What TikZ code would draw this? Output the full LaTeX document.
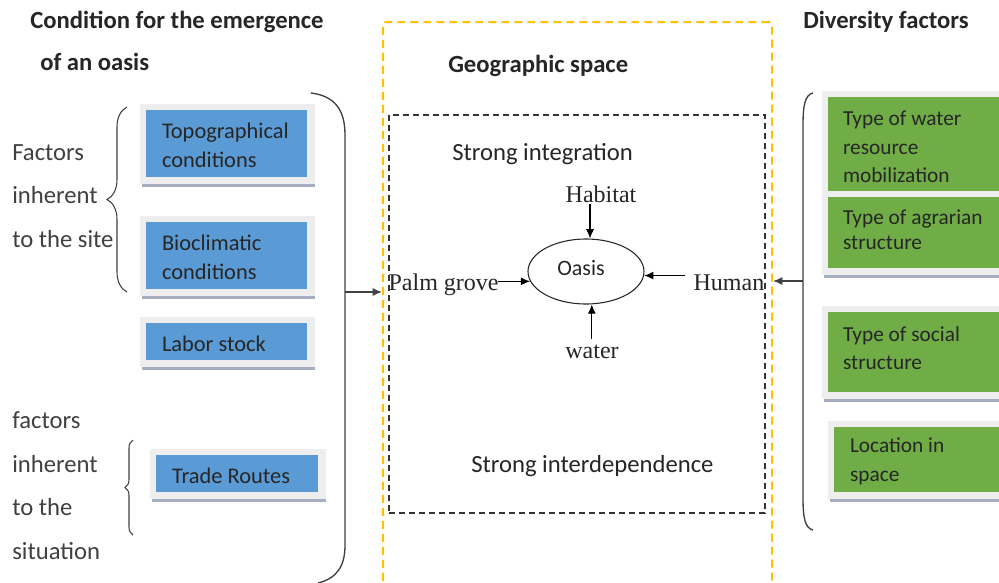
\documentclass[tikz,border=0pt]{standalone}
\usepackage{fontspec}
\setmainfont{Carlito}
\newfontfamily\tnr{Liberation Serif}
\usetikzlibrary{arrows.meta,fit,decorations.pathreplacing,shapes.geometric}
\definecolor{bluef}{HTML}{5B9BD5}
\definecolor{greenf}{HTML}{70AD47}
\definecolor{yel}{HTML}{FFC000}
\definecolor{framec}{HTML}{EEEEEE}
\definecolor{shadc}{HTML}{A5AFBF}
\definecolor{txt}{HTML}{262626}
\definecolor{lbl}{HTML}{404040}
\begin{document}
\begin{tikzpicture}[x=0.75pt,y=-0.75pt,
  title/.style={font=\fontsize{18.5}{22}\selectfont\bfseries, text=txt, inner sep=0, anchor=base west},
  lab/.style={font=\fontsize{18.5}{22}\selectfont, text=lbl, inner sep=0, anchor=base west},
  btext/.style={font=\fontsize{16.8}{21.5}\selectfont, text=txt, align=left, anchor=west, inner sep=0},
  gtext/.style={font=\fontsize{16}{21.5}\selectfont, text=txt, align=left, anchor=west, inner sep=0},
  tlab/.style={font=\tnr\fontsize{18}{22}\selectfont, text=txt, inner sep=1pt},
  arr/.style={-{Latex[length=7pt,width=6pt]}, line width=0.9pt, draw=black},
  conn/.style={draw=lbl, line width=1pt},
  bluebox/.style={inner sep=0, fill=bluef},
  greenbox/.style={inner sep=0, fill=greenf},
]
\useasboundingbox (0,0) rectangle (999,582);
\clip (0,0) rectangle (999,582);
\fill[white] (0,0) rectangle (999,582);

% titles
\node[title] (t1) at (30,28) {Condition for the emergence};
\node[title] (t2) at (40,70) {of an oasis};
\node[title] (t3) at (448,72) {Geographic space};
\node[title] (t4) at (803,28) {Diversity factors};

% left labels
\node[lab] (l1) at (12,160) {Factors};
\node[lab] (l2) at (12,203) {inherent};
\node[lab] (l3) at (12,247) {to the site};
\node[lab] (l4) at (12,428) {factors};
\node[lab] (l5) at (12,472) {inherent};
\node[lab] (l6) at (12,515) {to the};
\node[lab] (l7) at (12,559) {situation};

% blue boxes
\foreach \xa/\ya/\xb/\yb/\n in {146/110/307/177/b1, 146/222/307/289/b2, 146/323/307/360/b3, 156/455/318/492/b4}{
  \fill[framec] (\xa-6,\ya-6) rectangle (\xb+8,\yb+7);
  \fill[shadc] (\xa-4,\yb+7) rectangle (\xb+8,\yb+10);
  \node[bluebox, fit={(\xa,\ya)(\xb,\yb)}] (\n) {};
}
\node[btext] (b1t) at ([shift={(16,2)}]b1.west) {Topographical\\conditions};
\node[btext] (b2t) at ([shift={(16,2)}]b2.west) {Bioclimatic\\conditions};
\node[btext] (b3t) at ([shift={(16,2)}]b3.west) {Labor stock};
\node[btext] (b4t) at ([shift={(16,2)}]b4.west) {Trade Routes};

% green boxes
\foreach \xa/\ya/\xb/\yb/\n in {828/97/1010/191/g1, 828/197/1010/268/g2, 828/312/1010/392/g3, 834/427/1010/492/g4}{
  \fill[framec] (\xa-6,\ya-6) rectangle (\xb+8,\yb+7);
  \fill[shadc] (\xa-4,\yb+7) rectangle (\xb+8,\yb+10);
  \node[greenbox, fit={(\xa,\ya)(\xb,\yb)}] (\n) {};
}
\node[gtext] (g1t) at ([shift={(15,3)}]g1.west) {Type of water\\resource\\mobilization};
\node[gtext, font=\fontsize{16}{18.75}\selectfont] (g2t) at ([shift={(15,-3)}]g2.west) {Type of agrarian\\structure};
\node[gtext] (g3t) at ([shift={(15,-4)}]g3.west) {Type of social\\structure};
\node[gtext] (g4t) at ([shift={(16,2)}]g4.west) {Location in\\space};

% braces
\draw[conn, line width=0.8pt, decorate, decoration={brace, amplitude=15pt}] (127,292) -- (127,107);
\draw[conn, line width=0.8pt, decorate, decoration={brace, amplitude=6pt}] (133,535) -- (133,440);
\draw[conn] (311,93) .. controls (335,96) and (345,110) .. (345,135) -- (345,545) .. controls (345,565) and (338,578) .. (318,583);
\draw[conn] (813,93) .. controls (805,95) and (803,105) .. (803,125) -- (803,498) .. controls (803,518) and (805,528) .. (813,530);

% geographic space
\node[fit={(383,22)(772,650)}, inner sep=0, draw=yel, line width=1.5pt, dash pattern=on 6pt off 3.75pt, rounded corners=2pt] (geo) {};
\node[fit={(389,115)(765,513)}, inner sep=0, draw=black!80, line width=1.1pt, dash pattern=on 4.5pt off 3pt] (integ) {};

\node[lab, text=txt] (si) at (452,160) {Strong integration};
\node[lab, text=txt] (sd) at (471,472) {Strong interdependence};

\node[ellipse, draw=black!85, line width=0.8pt, minimum width=87pt, minimum height=48.75pt, inner sep=0] (oasis) at (586,271.5) {};
\node[font=\fontsize{16.5}{18}\selectfont, text=txt, inner sep=0] (oasislbl) at (581,268) {Oasis};

\node[tlab, anchor=base] (habitat) at (601,202) {Habitat};
\node[tlab, anchor=base] (water) at (592,358) {water};
\node[tlab, anchor=base west] (palm) at (387,290) {Palm grove};
\node[tlab, anchor=base west] (human) at (692,290) {Human};

\coordinate (pge) at ([xshift=-2pt]palm.east);
\coordinate (hw) at ([xshift=-5pt]human.west);
\coordinate (wn) at ([yshift=3pt]water.north);
\draw[arr] (oasis.83 |- habitat.south) -- (oasis.83);
\draw[arr] (oasis.-80 |- wn) -- (oasis.-80);
\draw[arr] (pge |- oasis.190) -- (oasis.190);
\draw[arr] (hw |- oasis.-4) -- (oasis.-4);

% outer connectors
\coordinate (lb) at (345,292);
\coordinate (rb) at (803,281);
\draw[arr, draw=lbl] (lb) -- (lb -| geo.west);
\draw[arr, draw=lbl] (rb) -- (rb -| geo.east);
\end{tikzpicture}
\end{document}
